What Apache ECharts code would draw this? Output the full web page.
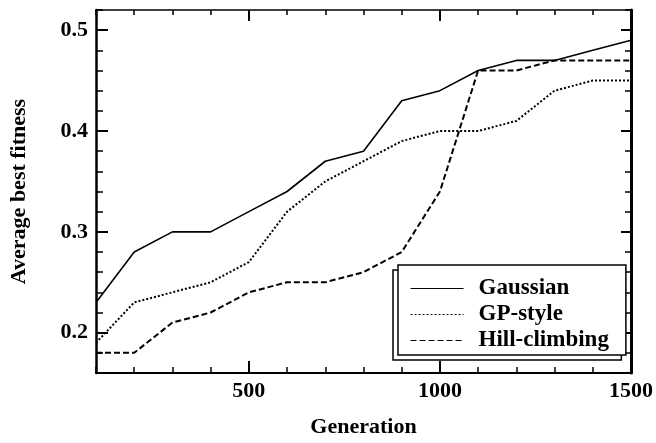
<!DOCTYPE html>
<html>
<head>
<meta charset="utf-8">
<script src="https://cdn.jsdelivr.net/npm/echarts@6/dist/echarts.min.js"></script>
<style>
html,body{margin:0;padding:0;background:#fff;}
#chart{width:656px;height:443px;}
</style>
</head>
<body>
<div id="chart"></div>
<script>
const generations = [100, 200, 300, 400, 500, 600, 700, 800, 900, 1000, 1100, 1200, 1300, 1400, 1500];
const gaussian = [0.23, 0.28, 0.30, 0.30, 0.32, 0.34, 0.37, 0.38, 0.43, 0.44, 0.46, 0.47, 0.47, 0.48, 0.49];
const gpStyle = [0.19, 0.23, 0.24, 0.25, 0.27, 0.32, 0.35, 0.37, 0.39, 0.40, 0.40, 0.41, 0.44, 0.45, 0.45];
const hillClimbing = [0.18, 0.18, 0.21, 0.22, 0.24, 0.25, 0.25, 0.26, 0.28, 0.34, 0.46, 0.46, 0.47, 0.47, 0.47];
const seriesNames = ['Gaussian', 'GP-style', 'Hill-climbing'];
const xTickLabels = [500, 1000, 1500];
const yTickLabels = [0.2, 0.3, 0.4, 0.5];

const FONT = '"Liberation Serif", "Times New Roman", serif';
const X_MIN = 100, X_MAX = 1500, Y_MIN = 0.16, Y_MAX = 0.52;

function pairs(vals) { return generations.map((g, i) => [g, vals[i]]); }
function isMajorY(v) { return yTickLabels.some(t => Math.abs(t - v) < 1e-6); }

const baseX = { type: 'value', min: X_MIN, max: X_MAX, splitLine: { show: false } };
const baseY = { type: 'value', min: Y_MIN, max: Y_MAX, splitLine: { show: false } };

const legendBase = {
  orient: 'vertical',
  padding: [12, 17, 3, 12],
  itemWidth: 53, itemHeight: 14, itemGap: 3,
  borderColor: '#000', borderWidth: 1.5, borderRadius: 0,
  itemStyle: { opacity: 0 },
  data: seriesNames
};

const option = {
  backgroundColor: '#fff',
  animation: false,
  grid: { left: 96, right: 13, top: 10, bottom: 68 },
  xAxis: [
    Object.assign({}, baseX, {
      position: 'bottom', interval: 100,
      name: 'Generation', nameLocation: 'middle', nameGap: 43,
      nameTextStyle: { fontFamily: FONT, fontWeight: 'bold', fontSize: 22, color: '#000' },
      axisLine: { lineStyle: { color: '#000', width: 2 } },
      axisTick: { inside: true, length: 6, lineStyle: { color: '#000', width: 1.5 } },
      axisLabel: {
        margin: 7, fontFamily: FONT, fontWeight: 'bold', fontSize: 22, color: '#000',
        formatter: v => xTickLabels.indexOf(v) >= 0 ? String(v) : ''
      }
    }),
    Object.assign({}, baseX, {
      position: 'bottom',
      axisLine: { show: false },
      axisTick: { inside: true, length: 12, customValues: xTickLabels, lineStyle: { color: '#000', width: 2 } },
      axisLabel: { show: false }
    }),
    Object.assign({}, baseX, {
      position: 'top', interval: 100,
      axisLine: { lineStyle: { color: '#000', width: 1.5 } },
      axisTick: { inside: true, length: 5, lineStyle: { color: '#000', width: 1.5 } },
      axisLabel: { show: false }
    }),
    Object.assign({}, baseX, {
      position: 'top',
      axisLine: { show: false },
      axisTick: { inside: true, length: 11, customValues: xTickLabels, lineStyle: { color: '#000', width: 2 } },
      axisLabel: { show: false }
    })
  ],
  yAxis: [
    Object.assign({}, baseY, {
      position: 'left', interval: 0.02,
      name: 'Average best fitness', nameLocation: 'middle', nameGap: 66, nameRotate: 90,
      nameTextStyle: { fontFamily: FONT, fontWeight: 'bold', fontSize: 22, color: '#000' },
      axisLine: { lineStyle: { color: '#000', width: 2.5 } },
      axisTick: { inside: true, length: 7, lineStyle: { color: '#000', width: 1.5 } },
      axisLabel: {
        margin: 8, fontFamily: FONT, fontWeight: 'bold', fontSize: 22, color: '#000',
        formatter: v => isMajorY(v) ? v.toFixed(1) : ''
      }
    }),
    Object.assign({}, baseY, {
      position: 'left',
      axisLine: { show: false },
      axisTick: { inside: true, length: 12, customValues: yTickLabels, lineStyle: { color: '#000', width: 2 } },
      axisLabel: { show: false }
    }),
    Object.assign({}, baseY, {
      position: 'right', interval: 0.02,
      axisLine: { lineStyle: { color: '#000', width: 3 } },
      axisTick: { inside: true, length: 6, lineStyle: { color: '#000', width: 1.5 } },
      axisLabel: { show: false }
    }),
    Object.assign({}, baseY, {
      position: 'right',
      axisLine: { show: false },
      axisTick: { inside: true, length: 10, customValues: yTickLabels, lineStyle: { color: '#000', width: 2 } },
      axisLabel: { show: false }
    })
  ],
  legend: [
    Object.assign({}, legendBase, {
      left: 393, top: 270, z: 3, selectedMode: false,
      backgroundColor: '#fff',
      lineStyle: { opacity: 0 },
      textStyle: { fontFamily: FONT, fontWeight: 'bold', fontSize: 23, lineHeight: 20, color: 'rgba(0,0,0,0)', padding: [0, 0, 0, 10] }
    }),
    Object.assign({}, legendBase, {
      left: 398, top: 265, z: 4,
      backgroundColor: '#fff',
      lineStyle: { width: 1.1 },
      textStyle: { fontFamily: FONT, fontWeight: 'bold', fontSize: 23, lineHeight: 20, color: '#000', padding: [0, 0, 0, 10] }
    })
  ],
  series: [
    { name: seriesNames[0], type: 'line', data: pairs(gaussian), symbol: 'none',
      lineStyle: { color: '#000', width: 1.6, type: 'solid' }, itemStyle: { color: '#000' } },
    { name: seriesNames[1], type: 'line', data: pairs(gpStyle), symbol: 'none',
      lineStyle: { color: '#000', width: 2, type: [2, 2] }, itemStyle: { color: '#000' } },
    { name: seriesNames[2], type: 'line', data: pairs(hillClimbing), symbol: 'none',
      lineStyle: { color: '#000', width: 2, type: [6, 3] }, itemStyle: { color: '#000' } }
  ]
};

const chart = echarts.init(document.getElementById('chart'), null, { renderer: 'canvas' });
chart.setOption(option);
</script>
</body>
</html>
